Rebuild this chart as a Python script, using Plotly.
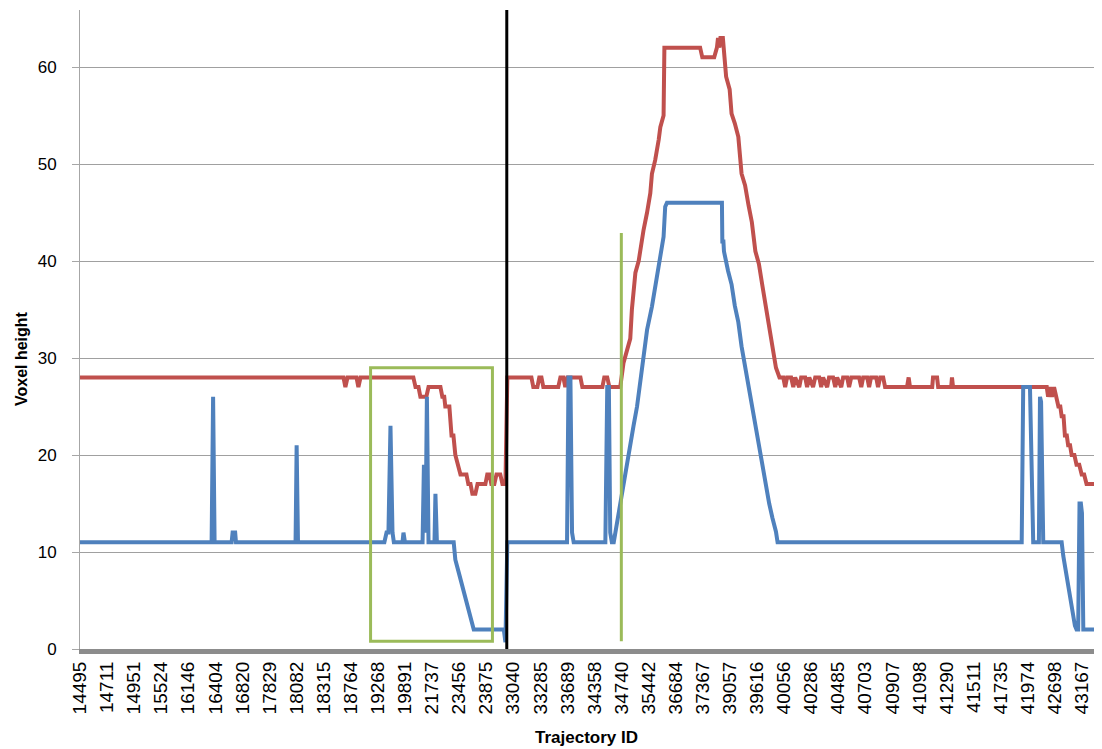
import plotly.graph_objects as go

# Trajectory IDs shown as category labels (one per label slot)
trajectory_ids = ["14495", "14711", "14951", "15524", "16146", "16404", "16820", "17829",
                  "18082", "18315", "18764", "19268", "19891", "21737", "23456", "23875",
                  "33040", "33285", "33689", "34358", "34740", "35442", "36684", "37367",
                  "39057", "39616", "40056", "40286", "40485", "40703", "40907", "41098",
                  "41290", "41511", "41735", "41974", "42698", "43167"]
label_pos = list(range(len(trajectory_ids)))

# Red series: position along the label axis, voxel height
red_x = [0, 9.73, 9.80, 9.88, 10.21, 10.28, 10.36, 12.31, 12.39, 12.50, 12.57, 12.79, 12.87,
         13.31, 13.38, 13.45, 13.49, 13.64, 13.72, 13.79, 13.86, 13.94, 14.05, 14.27, 14.34,
         14.42, 14.49, 14.60, 14.68, 14.97, 15.04, 15.12, 15.19, 15.30, 15.38, 15.52, 15.60,
         15.71, 15.78,
         16.67, 16.74, 16.89, 16.96, 17.04, 17.11, 17.66, 17.74, 17.85, 17.92, 18.00, 18.48,
         18.55, 19.29, 19.36, 19.47, 19.55, 19.95,
         20.07, 20.20, 20.32, 20.38, 20.44, 20.51, 20.63, 20.75, 20.81, 20.94, 21.06, 21.12,
         21.24, 21.37, 21.43, 21.55, 21.58,
         22.90, 22.98, 23.42, 23.52, 23.56, 23.61, 23.65, 23.74, 23.80,
         23.86, 23.99, 24.06, 24.18, 24.31, 24.43, 24.56, 24.69, 24.81, 24.94, 25.07, 25.19,
         25.32, 25.45, 25.57, 25.70, 25.83,
         25.97, 26.04, 26.11, 26.26, 26.34, 26.41, 26.56, 26.63, 26.78, 26.85, 26.93, 27.07,
         27.15, 27.30, 27.37, 27.44, 27.59, 27.66, 27.81, 27.89, 27.96, 28.11, 28.18, 28.33,
         28.40, 28.48, 28.77, 28.85, 28.92, 29.07, 29.14, 29.21, 29.40, 29.47, 29.55, 29.66,
         29.73, 30.54, 30.60, 30.65, 31.47, 31.50, 31.65, 31.69, 32.17, 32.20, 32.24,
         35.70, 35.75, 35.82, 35.89, 35.97, 36.04, 36.13, 36.20, 36.25, 36.32, 36.37, 36.44,
         36.49, 36.56, 36.62, 36.72, 36.80, 36.90, 36.99, 37.08, 37.17, 37.54, 37.60, 37.74]
red_y = [28, 28, 27, 28, 28, 27, 28, 28, 27, 27, 26, 26, 27,
         27, 26, 26, 25, 25, 22, 22, 20, 19, 18, 18, 17,
         17, 16, 16, 17, 17, 18, 18, 17, 17, 18, 18, 17,
         17, 28,
         28, 27, 27, 28, 28, 27, 27, 28, 28, 27, 28, 28,
         27, 27, 28, 28, 27, 27,
         29.5, 31, 32, 35, 37, 38.8, 40, 42.2, 43.2, 45, 47, 49,
         50.4, 52.5, 53.8, 55, 62,
         62, 61, 61, 62, 63, 62, 63, 63, 61,
         59, 57.7, 55.2, 54.2, 52.8, 49, 47.8, 45.7, 44, 41, 39.7, 37.6,
         35.4, 33, 31.6, 29, 28,
         28, 27, 28, 28, 27, 28, 27, 28, 28, 27, 28, 27,
         28, 28, 27, 28, 27, 28, 28, 27, 28, 27, 28, 28,
         27, 28, 28, 27, 28, 28, 27, 28, 28, 27, 28, 28,
         27, 27, 28, 27, 27, 28, 28, 27, 27, 28, 27,
         27, 26, 27, 26, 27, 26, 25, 25, 24, 24, 22, 22,
         21, 21, 20, 20, 19, 19, 18, 18, 17, 17, 18, 18]

# Blue series
blue_x = [0, 4.86, 4.915, 4.97, 5.60, 5.635, 5.73, 5.76, 7.96, 8.00, 8.05, 11.24, 11.32,
          11.39, 11.465, 11.54, 11.59, 11.91, 11.945, 12.00, 12.65, 12.70, 12.76, 12.81, 12.87,
          13.09, 13.125, 13.18, 13.80, 13.86, 13.985, 14.05, 14.17, 14.30, 14.35, 14.48, 14.54,
          15.65, 15.71, 15.78,
          17.985, 18.04, 18.11, 18.17, 18.23, 19.40, 19.47, 19.53, 19.58, 19.64, 19.71, 19.77,
          19.95, 20.07, 20.20, 20.32, 20.44, 20.57, 20.69, 20.81, 20.94, 21.12, 21.24, 21.43,
          21.55, 21.61, 21.675,
          23.705, 23.72, 23.76, 23.78, 23.93, 24.06, 24.18, 24.31, 24.43, 24.56, 24.69, 24.81,
          24.94, 25.07, 25.19, 25.32, 25.45, 25.57, 25.70, 25.76,
          34.775, 34.83, 35.08, 35.20, 35.41, 35.45, 35.49, 35.57,
          36.25, 36.31, 36.37, 36.435, 36.49, 36.56, 36.62, 36.68, 36.74, 36.80, 36.86, 36.91,
          36.96, 37.00, 37.05, 37.74]
blue_y = [11, 11, 26, 11, 11, 12, 12, 11, 11, 21, 11, 11, 12,
          12, 23, 12, 11, 11, 12, 11, 11, 19, 12, 26, 11,
          11, 16, 11, 11, 9.2, 7.9, 7.2, 5.8, 4.4, 3.7, 2.4, 2,
          2, 0.7, 11,
          11, 28, 28, 12, 11, 11, 27, 27, 12, 11, 11, 12,
          15, 17, 19.5, 21.5, 23, 25, 27.5, 29.5, 32.9, 35.3, 37.4, 40.1,
          42.5, 45.6, 46,
          46, 42, 42, 41, 39, 37.6, 35.4, 33.7, 31.2, 29.1, 27, 24.8,
          23.1, 21, 19.2, 17.1, 15, 13.5, 12.1, 11,
          11, 27, 27, 11, 11, 26, 25.5, 11,
          11, 9.6, 8.6, 7.2, 6.2, 5.1, 4.1, 3.2, 2.4, 2, 2, 15,
          15, 14, 2, 2]

# Annotation marks (in axis units)
split_pos = 15.76
box_x = [10.73, 15.23]
box_y = [0.8, 29]
marker_pos = 19.99
marker_y = [0.8, 42.9]

RED = "#C0504D"
BLUE = "#4F81BD"
GREEN = "#9BBB59"
FONT = "Liberation Sans"

fig = go.Figure()
fig.add_trace(go.Scatter(x=red_x, y=red_y, mode="lines",
                         line=dict(color=RED, width=4), showlegend=False))
fig.add_trace(go.Scatter(x=blue_x, y=blue_y, mode="lines",
                         line=dict(color=BLUE, width=4), showlegend=False))

fig.add_shape(type="rect", x0=box_x[0], x1=box_x[1], y0=box_y[0], y1=box_y[1],
              xref="x", yref="y", line=dict(color=GREEN, width=3))
fig.add_shape(type="line", x0=marker_pos, x1=marker_pos, y0=marker_y[0], y1=marker_y[1],
              xref="x", yref="y", line=dict(color=GREEN, width=3))
fig.add_shape(type="line", x0=split_pos, x1=split_pos, y0=0, y1=1,
              xref="x", yref="paper", line=dict(color="black", width=3))

fig.update_layout(
    width=1094, height=741,
    margin=dict(l=72, r=0, t=2, b=100),
    plot_bgcolor="white", paper_bgcolor="white",
    font=dict(family=FONT, color="black"),
    xaxis=dict(range=[0, 37.74], tickmode="array", tickvals=label_pos,
               ticktext=trajectory_ids, tickangle=-90, showgrid=False, zeroline=False,
               showline=True, linecolor="#8C8C8C", linewidth=5, ticks="",
               tickfont=dict(size=19, family=FONT)),
    yaxis=dict(range=[0, 65.88], dtick=10, showgrid=True, gridcolor="#A0A0A0", gridwidth=1,
               zeroline=False, showline=True, linecolor="#A6A6A6", linewidth=1,
               ticks="outside", ticklen=7, tickcolor="#A6A6A6",
               tickfont=dict(size=17, family=FONT), ticklabelstandoff=12),
    annotations=[
        dict(text="<b>Voxel height</b>", xref="paper", yref="paper", x=-0.057, y=0.455,
             textangle=-90, showarrow=False, font=dict(size=16, family=FONT),
             xanchor="center", yanchor="middle"),
        dict(text="<b>Trajectory ID</b>", xref="paper", yref="paper", x=0.496, y=-0.139,
             showarrow=False, font=dict(size=17, family=FONT),
             xanchor="center", yanchor="middle"),
    ],
)

fig.write_html("out.html")
